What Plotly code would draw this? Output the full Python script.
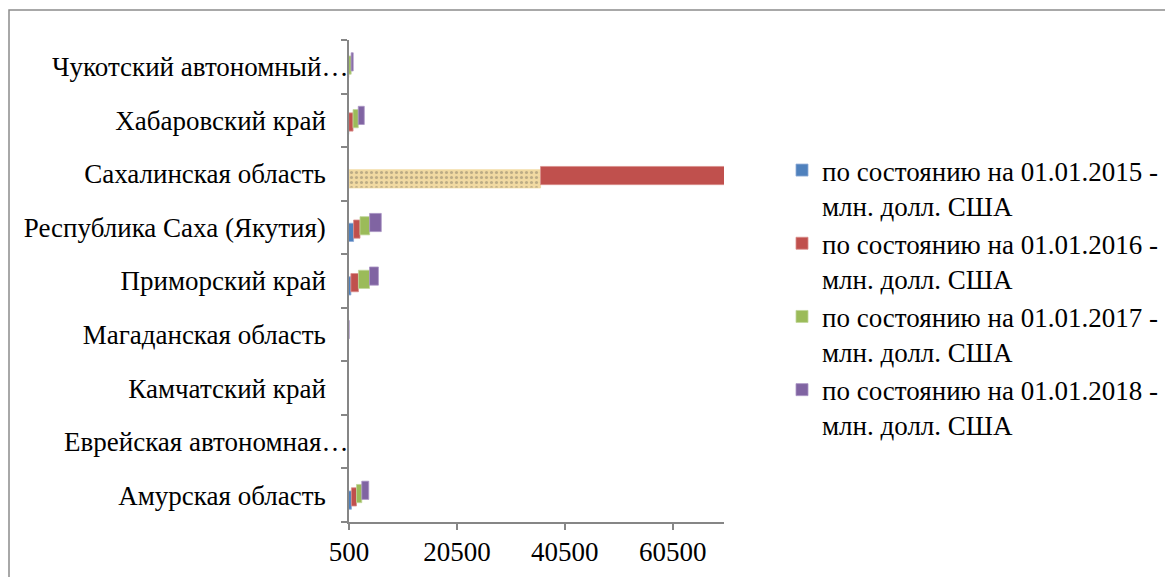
import numpy as np
import plotly.graph_objects as go

# Regions of the Far Eastern Federal District (bottom to top)
categories = [
    "Амурская область",
    "Еврейская автономная…",
    "Камчатский край",
    "Магаданская область",
    "Приморский край",
    "Республика Саха (Якутия)",
    "Сахалинская область",
    "Хабаровский край",
    "Чукотский автономный…",
]

# Values, mln USD
v2015 = [950, 40, 60, 120, 850, 1350, 36000, 450, 150]
v2016 = [940, 50, 70, 130, 1400, 1190, 40500, 800, 300]
v2017 = [980, 80, 110, 130, 2050, 1780, 38000, 970, 450]
v2018 = [1290, 90, 150, 160, 1650, 2160, 41000, 1110, 380]

series_names = [
    "по состоянию на 01.01.2015 -<br>млн. долл. США",
    "по состоянию на 01.01.2016 -<br>млн. долл. США",
    "по состоянию на 01.01.2017 -<br>млн. долл. США",
    "по состоянию на 01.01.2018 -<br>млн. долл. США",
]

x_ticks = [500, 20500, 40500, 60500]

colors = ["#4F81BD", "#C0504D", "#9BBB59", "#8064A2"]
edge_colors = ["#8EAAD6", "#D98E8C", "#C0D69A", "#A994C4"]
FONT = "Liberation Serif"
FS = 27

series = [v2015, v2016, v2017, v2018]
bases = np.cumsum([np.zeros(len(categories))] + [np.array(s, float) for s in series[:-1]], axis=0)

bar_w = 0.34
offsets = [-0.092 - bar_w / 2, -0.031 - bar_w / 2, 0.031 - bar_w / 2, 0.092 - bar_w / 2]

fig = go.Figure()
for i, (vals, name) in enumerate(zip(series, series_names)):
    marker = dict(color=colors[i], line=dict(color=edge_colors[i], width=0.8))
    if i == 0:
        # Sakhalin point uses a parchment-like textured fill
        sak = categories.index("Сахалинская область")
        marker["color"] = [("#F1DAA2" if k == sak else colors[0]) for k in range(len(categories))]
        marker["line"] = dict(color=[("#F1DAA2" if k == sak else edge_colors[0]) for k in range(len(categories))], width=0.8)
        marker["pattern"] = dict(
            shape=[("." if k == sak else "") for k in range(len(categories))],
            fgcolor="#D9C088", fgopacity=0.3, size=5, solidity=0.3,
        )
    fig.add_trace(go.Bar(
        y=categories, x=vals, base=bases[i], orientation="h",
        name=name, marker=marker, width=bar_w, offset=offsets[i],
        legendgroup=f"g{i}",
    ))

L, R, T, B = 349, 441, 40, 55
W, H = 1165, 577
pw, ph = W - L - R, H - T - B

def px_x(x):
    return (x - L) / pw

def px_y(y):
    return (H - B - y) / ph

# truncated region names run right up to the axis line
truncated = [c for c in categories if c.endswith("…")]
tick_text = ["" if c in truncated else c for c in categories]
annotations = [
    dict(x=px_x(349), xref="paper", xanchor="right", y=c, yref="y",
         text=c, showarrow=False, borderpad=0,
         font=dict(family=FONT, size=FS, color="black"))
    for c in truncated
]

fig.update_layout(
    width=W, height=H,
    margin=dict(l=L, r=R, t=T, b=B, pad=0, autoexpand=False),
    paper_bgcolor="white", plot_bgcolor="white",
    barmode="overlay",
    font=dict(family=FONT, size=FS, color="black"),
    showlegend=True,
    legend=dict(
        x=px_x(782), y=px_y(146), xanchor="left", yanchor="top",
        font=dict(family=FONT, size=FS, color="black"),
        valign="top", tracegroupgap=0, bgcolor="rgba(0,0,0,0)",
    ),
    xaxis=dict(
        range=[500, 70000], tickmode="array", tickvals=x_ticks,
        ticktext=[str(t) for t in x_ticks], automargin=False,
        showgrid=False, zeroline=False, showline=True,
        linecolor="#868686", linewidth=1.5,
        ticks="outside", ticklen=6, tickcolor="#868686", tickwidth=1.5,
        tickfont=dict(family=FONT, size=FS, color="black"),
        ticklabelstandoff=-1,
    ),
    yaxis=dict(
        type="category", categoryorder="array", categoryarray=categories,
        tickmode="array", tickvals=categories, ticktext=tick_text,
        range=[-0.5, len(categories) - 0.5], automargin=False,
        showgrid=False, zeroline=False, showline=True,
        linecolor="#868686", linewidth=1.5,
        ticks="outside", ticklen=6, tickcolor="#868686", tickwidth=1.5,
        tickson="boundaries",
        tickfont=dict(family=FONT, size=FS, color="black"),
        ticklabelstandoff=16,
    ),
    annotations=annotations,
    shapes=[dict(
        type="rect", xref="paper", yref="paper",
        x0=px_x(9), x1=px_x(W + 10), y0=px_y(H + 10), y1=px_y(10),
        line=dict(color="#8C8C8C", width=1.5), fillcolor="rgba(0,0,0,0)",
        layer="below",
    )],
)

fig.write_html("out.html")
